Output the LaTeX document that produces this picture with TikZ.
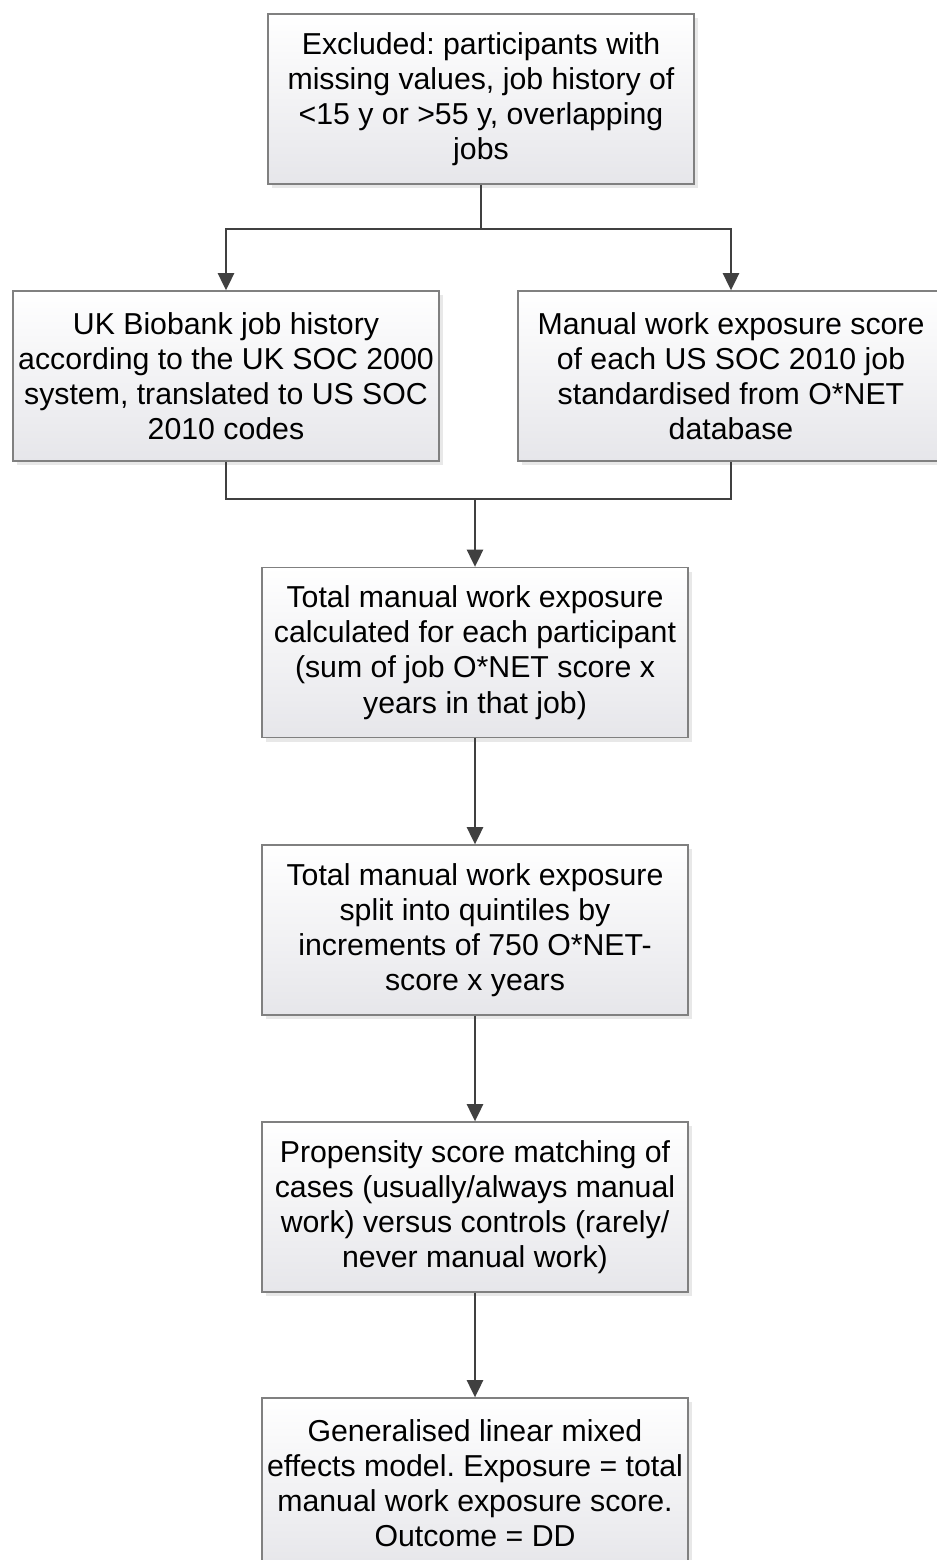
\documentclass[tikz,border=0pt]{standalone}
\usepackage{fontspec}
\setmainfont{Liberation Sans}
\usetikzlibrary{arrows.meta,shadows}
\definecolor{linegray}{HTML}{404040}
\definecolor{boxborder}{HTML}{808080}
\definecolor{boxbottom}{HTML}{E6E6EA}
\frenchspacing
\tikzset{
  flowbox/.style={draw=boxborder, line width=0.9pt, top color=white, bottom color=boxbottom,
    minimum width=319.5pt, minimum height=127.5pt, inner sep=0pt, align=center,
    font=\fontsize{22.7}{26.4}\selectfont\frenchspacing,
    drop shadow={shadow xshift=3pt, shadow yshift=-3pt, fill=black!18}},
  conn/.style={draw=linegray, line width=2.1pt},
  arr/.style={conn, -{Triangle[length=13pt,width=12pt]}}
}
\begin{document}
\begin{tikzpicture}[x=0.75pt,y=-0.75pt]
\useasboundingbox (0,0) rectangle (937,1560);
\node[flowbox] (top) at (481,99) {Excluded: participants with\\missing values, job history of\\<15 y or >55 y, overlapping\\jobs};
\node[flowbox] (left) at (226,376) {UK Biobank job history\\according to the UK SOC 2000\\system, translated to US SOC\\2010 codes};
\node[flowbox] (right) at (731,376) {Manual work exposure score\\of each US SOC 2010 job\\standardised from O*NET\\database};
\node[flowbox] (total) at (475,652.5) {Total manual work exposure\\calculated for each participant\\(sum of job O*NET score x\\years in that job)};
\node[flowbox] (quint) at (475,930) {Total manual work exposure\\split into quintiles by\\increments of 750 O*NET-\\score x years};
\node[flowbox] (psm) at (475,1207) { Propensity score matching of\\cases (usually/always manual\\work) versus controls (rarely/\\never manual work)};
\node[flowbox] (glmm) at (475,1483) {Generalised linear mixed\\effects model. Exposure = total\\manual work exposure score.\\Outcome = DD};
\coordinate (split) at (481,229);
\coordinate (merge) at (475,499);
\draw[conn] (top) -- (split);
\draw[arr] (split) -| (left);
\draw[arr] (split) -| (right);
\draw[conn] (left.south) |- (merge) -| (right.south);
\draw[arr] (merge) -- (total);
\draw[arr] (total) -- (quint);
\draw[arr] (quint) -- (psm);
\draw[arr] (psm) -- (glmm);
\end{tikzpicture}
\end{document}
